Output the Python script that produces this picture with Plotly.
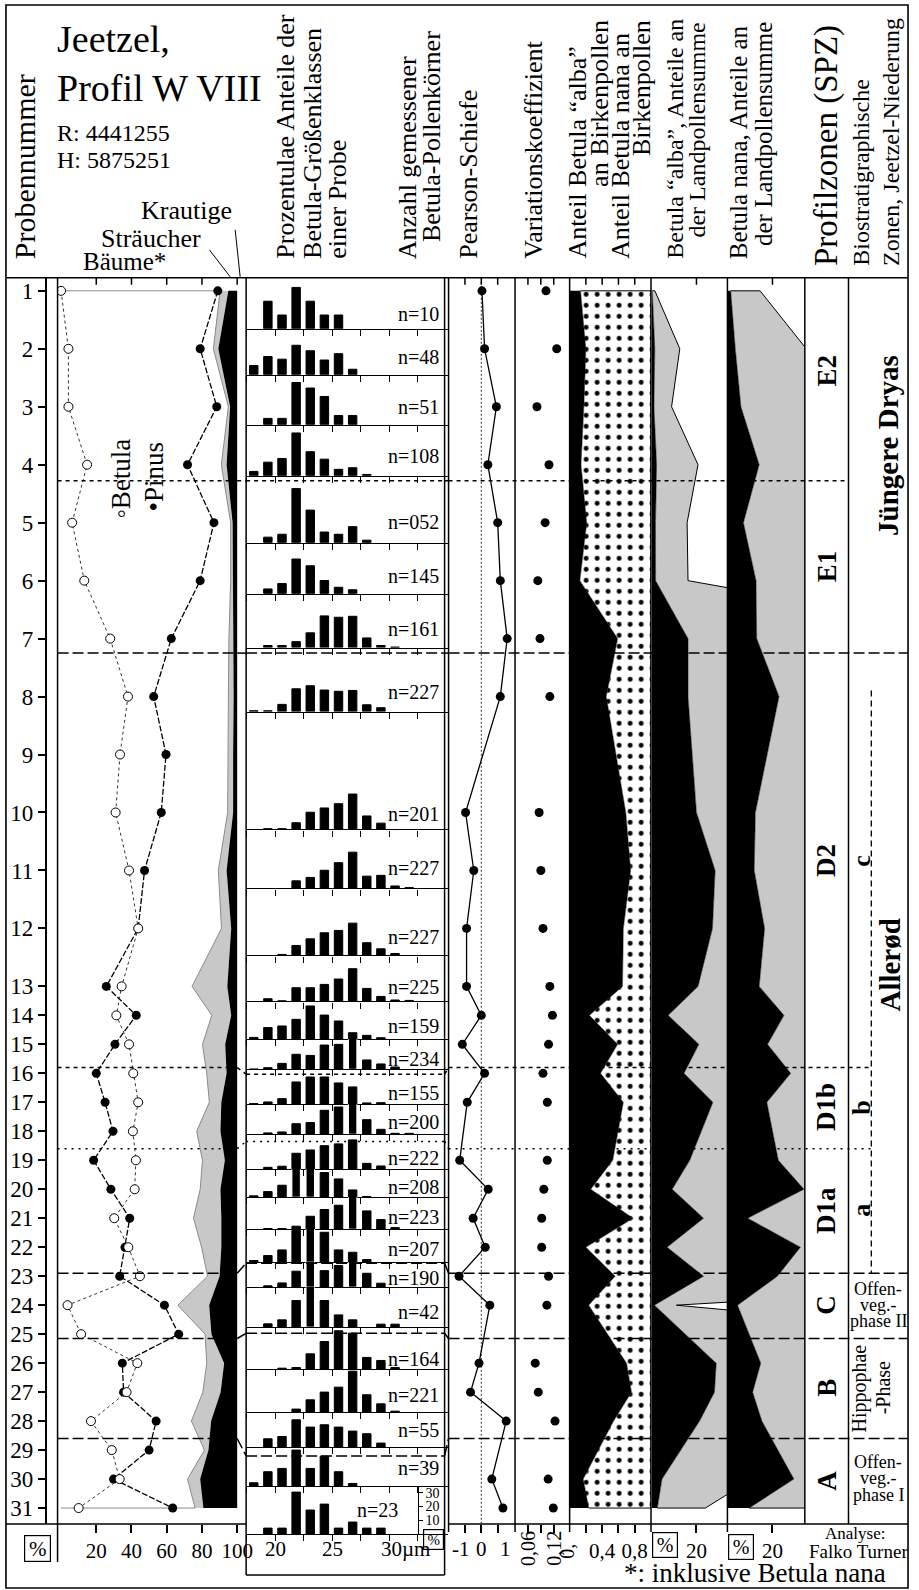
import plotly.graph_objects as go

W, H = 919, 1590
SERIF = "Liberation Serif"

# ------------------------------------------------------------------ data
sample_no = list(range(1, 32))
sample_depth = [0, 2, 4, 6, 8, 10, 12, 14, 16, 18, 20, 22, 24,
                25, 26, 27, 28, 29, 30, 31, 32, 33, 34, 35, 36, 37, 38, 39, 40, 41, 42]

betula = [0.0, 4.2, 4.2, 14.8, 6.3, 13.2, 27.9, 38.0, 33.5, 31.0, 38.6, 43.8, 34.4, 31.4, 38.6, 41.0,
          43.8, 40.8, 42.5, 41.8, 30.2, 38.2, 44.8, 3.7, 11.4, 43.3, 37.2, 17.0, 28.8, 33.3, 10.0]
pinus = [89.0, 79.0, 88.4, 71.8, 86.8, 79.0, 62.6, 52.6, 59.6, 56.9, 47.4, 43.8, 25.7, 42.7, 30.6, 20.0,
         25.0, 29.5, 18.5, 28.3, 39.0, 36.3, 33.3, 58.7, 66.8, 34.8, 35.5, 54.0, 50.0, 29.8, 63.4]
trees = [90.3, 86.5, 95.0, 91.0, 96.3, 96.3, 95.3, 95.0, 95.0, 94.6, 89.3, 91.1, 74.4, 85.6, 80.3, 82.7,
         84.2, 77.0, 80.3, 79.0, 75.2, 79.8, 83.2, 66.3, 81.8, 82.7, 80.5, 74.0, 81.4, 71.8, 76.1]
shrubs = [4.7, 2.8, 1.0, 3.0, 1.1, 1.4, 2.7, 3.0, 2.7, 3.1, 4.7, 5.5, 20.0, 11.0, 12.9, 11.3,
          6.8, 13.5, 12.7, 11.5, 15.8, 11.2, 6.8, 17.8, 3.6, 9.9, 10.1, 11.2, 2.3, 7.2, 4.7]

measured = [1, 2, 3, 4, 5, 6, 7, 8, 10, 11, 12, 13, 14, 15, 16, 17, 19, 20, 21, 22, 23, 24, 26, 27, 28, 30, 31]
n_label = ["10", "48", "51", "108", "052", "145", "161", "227", "201", "227", "227", "225", "159", "234",
           "155", "200", "222", "208", "223", "207", "190", "42", "164", "221", "55", "39", "23"]
pearson = [0.02, 0.10, 0.46, 0.20, 0.50, 0.58, 0.79, 0.58, -0.48, -0.23, -0.45, -0.45, 0.0, -0.58,
           0.10, -0.43, -0.66, 0.21, -0.25, 0.12, -0.68, 0.26, -0.07, -0.33, 0.76, 0.32, 0.66]
var_coef = [0.102, 0.127, 0.081, 0.109, 0.100, 0.083, 0.088, 0.111, 0.086, 0.090, 0.095, 0.111, 0.117,
            0.108, 0.095, 0.105, 0.105, 0.097, 0.092, 0.092, 0.108, 0.104, 0.077, 0.084, 0.123, 0.107, 0.119]
alba_frac = [0.134, 0.20, 0.175, 0.14, 0.21, 0.126, 0.59, 0.45, 0.69, 0.75, 0.66, 0.65, 0.244, 0.59,
             0.38, 0.66, 0.53, 0.26, 0.78, 0.20, 0.56, 0.235, 0.70, 0.76, 0.54, 0.167, 0.235]
alba_pct = [0.13, 1.25, 0.88, 2.07, 1.58, 1.62, 16.2, 16.2, 20.0, 28.4, 27.2, 20.7, 7.3, 21.1,
            14.4, 27.4, 17.0, 9.1, 23.2, 6.8, 23.2, 1.1, 28.9, 28.1, 21.4, 4.5, 2.4]
nana_pct = [1.45, 3.5, 6.0, 14.1, 7.1, 12.7, 13.0, 22.9, 12.4, 11.9, 16.5, 14.1, 25.1, 17.8,
            28.1, 17.5, 22.6, 34.0, 9.0, 32.4, 22.2, 4.5, 14.8, 11.2, 15.3, 29.5, 9.7]
exaggeration = 10

size_class_um = [18.1, 19.34, 20.58, 21.82, 23.06, 24.3, 25.54, 26.78, 28.02, 29.26, 30.5, 31.74]
h01 = [0, 20, 10, 30, 20, 10, 10, 0, 0, 0, 0, 0]
h02 = [6.7, 13.2, 11.3, 21.4, 17.4, 10.7, 15.3, 4.0, 0, 0, 0, 0]
h03 = [0, 4.6, 4.6, 30.6, 26.6, 20.5, 6.7, 6.7, 0, 0, 0, 0]
h04 = [3.1, 9.8, 12.5, 31.0, 17.4, 12.0, 4.6, 5.8, 0.9, 0, 0, 0]
h05 = [0, 4.0, 6.1, 39.2, 23.6, 7.7, 6.1, 11.6, 1.8, 0, 0, 0]
h06 = [0, 3.4, 7.3, 25.1, 20.2, 9.5, 4.6, 2.8, 0, 0, 0, 0]
h07 = [0, 1.5, 1.5, 4.3, 10.7, 23.0, 22.0, 22.7, 7.0, 1.5, 0.4, 0]
h08 = [0.6, 0.6, 5.2, 16.5, 18.7, 15.6, 14.7, 15.3, 4.9, 2.8, 0, 0]
h10 = [0, 0.6, 0.6, 4.9, 12.5, 15.6, 18.7, 25.7, 9.8, 4.6, 0, 0]
h11 = [0, 0, 0, 5.5, 8.0, 13.2, 18.7, 26.3, 8.9, 9.5, 1.8, 0.6]
h12 = [0, 0, 0.7, 7.2, 12.0, 16.4, 18.1, 23.4, 9.2, 4.8, 1.4, 0]
h13 = [0, 1.9, 0.4, 9.9, 9.9, 12.3, 16.2, 23.7, 9.4, 3.6, 1.0, 0.7]
h14 = [1.4, 8.5, 9.7, 14.5, 24.2, 17.6, 13.3, 4.8, 2.9, 1.2, 0, 0]
h15 = [0.2, 1.2, 4.3, 10.9, 10.1, 17.6, 18.1, 24.2, 6.8, 3.9, 1.7, 0]
h16 = [0.5, 1.7, 4.1, 16.2, 19.8, 19.8, 15.5, 12.6, 1.0, 1.2, 0, 0]
h17 = [0, 1.0, 1.7, 7.7, 8.5, 17.4, 19.8, 25.8, 10.6, 3.6, 0.7, 0.7]
h19 = [0, 1.4, 2.2, 11.6, 14.0, 17.1, 18.4, 21.3, 4.3, 2.4, 0, 0]
h20 = [1.0, 4.1, 8.7, 24.6, 29.5, 17.9, 13.3, 5.3, 0.5, 0, 0, 0]
h21 = [0, 0.5, 0.5, 2.2, 9.4, 14.3, 17.4, 28.3, 13.3, 7.0, 1.2, 0]
h22 = [1.2, 4.8, 8.9, 23.0, 30.2, 21.7, 8.9, 7.2, 1.9, 0, 0, 0]
h23 = [0, 1.0, 3.1, 11.6, 20.5, 12.0, 15.7, 20.5, 10.1, 2.9, 0, 0]
h24 = [0, 2.4, 5.3, 19.3, 31.9, 19.3, 8.9, 5.3, 0, 2.2, 2.2, 0]
h26 = [0, 0, 0.7, 1.2, 11.1, 20.0, 27.8, 26.1, 8.5, 6.3, 1.2, 0]
h27 = [0, 0, 0, 2.2, 8.9, 14.5, 18.1, 29.7, 12.6, 6.0, 0.7, 0]
h28 = [0, 6.0, 7.7, 19.8, 14.5, 16.2, 14.5, 11.6, 9.7, 2.9, 0, 0]
h30 = [2.4, 10.4, 12.8, 26.1, 12.8, 21.7, 10.4, 1.9, 0, 0, 0, 0]
h31 = [0, 4.3, 4.3, 30.4, 17.4, 21.7, 4.3, 8.7, 4.3, 4.3, 0, 0]
histograms = [h01, h02, h03, h04, h05, h06, h07, h08, h10, h11, h12, h13, h14, h15, h16, h17,
              h19, h20, h21, h22, h23, h24, h26, h27, h28, h30, h31]

zone_bounds = [6.55, 12.5, 26.8, 29.6, 33.9, 36.15, 39.6]
zone_bounds_hist = [6.55, 12.5, 27.03, 29.35, 33.55, 35.97, 40.2]

# ------------------------------------------------------------------ layout helpers
def px(x):
    return x / W


def py(y):
    return 1 - y / H


PX_PER_UNIT = 29.0
Y_TOP, Y_BOT = 277, 1524


def depth_of(ypx):
    return (ypx - 290) / PX_PER_UNIT


hist_base_px = [328, 374, 424, 475, 542, 593, 647, 711, 829, 888, 955, 1001, 1039, 1069, 1104, 1134,
                1169, 1197, 1229, 1262, 1287, 1327, 1369, 1412, 1447, 1486, 1534]
n_label_dy = [15, 18, 18, 20, 21, 18, 19, 20, 15, 20, 18, 14, 13, 10, 11, 12, 11, 10, 12, 13, 9, 15,
              10, 17, 17, 18, 24]
PX_PER_PCT = 1.38

fig = go.Figure()
meas_depth = [sample_depth[s - 1] for s in measured]
d_first, d_last = meas_depth[0], meas_depth[-1]

# ------------------------------------------------------------------ pollen panel
cum = [t + s for t, s in zip(trees, shrubs)]
fig.add_trace(go.Scatter(x=trees, y=sample_depth, mode="lines", line=dict(width=0),
                         xaxis="x", yaxis="y", hoverinfo="skip"))
fig.add_trace(go.Scatter(x=cum, y=sample_depth, mode="lines", line=dict(width=0), fill="tonextx",
                         fillcolor="#c8c8c8", xaxis="x", yaxis="y", hoverinfo="skip"))
fig.add_trace(go.Scatter(x=[100] * len(sample_depth), y=sample_depth, mode="lines", line=dict(width=0),
                         fill="tonextx", fillcolor="black", xaxis="x", yaxis="y", hoverinfo="skip"))
fig.add_trace(go.Scatter(x=[0] + trees + [0], y=[sample_depth[0]] + sample_depth + [sample_depth[-1]],
                         mode="lines", line=dict(color="#8a8a8a", width=1), xaxis="x", yaxis="y"))
fig.add_trace(go.Scatter(x=pinus, y=sample_depth, mode="lines+markers",
                         line=dict(color="black", width=1.3, dash="6px,2px"),
                         marker=dict(color="black", size=9), xaxis="x", yaxis="y"))
fig.add_trace(go.Scatter(x=betula, y=sample_depth, mode="lines+markers",
                         line=dict(color="#333", width=1, dash="dot"),
                         marker=dict(color="white", size=9, line=dict(color="black", width=1)),
                         xaxis="x", yaxis="y"))

# ------------------------------------------------------------------ histogram panels
n_hist = len(histograms)
for i, vals in enumerate(histograms):
    base = hist_base_px[i]
    top = 277 if i == 0 else hist_base_px[i - 1]
    panel_h = base - top
    xs = [c for c, v in zip(size_class_um, vals) if v > 0]
    ys = [v for v in vals if v > 0]
    edge = ["white" if v * PX_PER_PCT > panel_h - 1 else "black" for v in ys]
    ax_x = "x%d" % (7 + i)
    ax_y = "y%d" % (2 + i)
    fig.add_trace(go.Bar(x=xs, y=ys, width=0.74, marker=dict(color="black", line=dict(color=edge, width=1)),
                         cliponaxis=False, xaxis=ax_x, yaxis=ax_y, hoverinfo="skip"))

# ------------------------------------------------------------------ right panels
fig.add_trace(go.Scatter(x=pearson, y=meas_depth, mode="lines+markers", line=dict(color="black", width=1.3),
                         marker=dict(color="black", size=9), xaxis="x2", yaxis="y"))
fig.add_trace(go.Scatter(x=var_coef, y=meas_depth, mode="markers",
                         marker=dict(color="black", size=9), xaxis="x3", yaxis="y"))

fig.add_trace(go.Scatter(x=alba_frac, y=meas_depth, mode="lines", line=dict(color="black", width=0.5),
                         fill="tozerox", fillcolor="black", xaxis="x4", yaxis="y"))
fig.add_trace(go.Scatter(x=[alba_frac[0]] + [1] * len(meas_depth) + [alba_frac[-1]],
                         y=[d_first] + meas_depth + [d_last], mode="lines",
                         line=dict(color="black", width=1), fill="tonextx", fillcolor="white",
                         fillpattern=dict(shape=".", fgcolor="black", bgcolor="white", size=11,
                                          solidity=0.16, fillmode="replace"),
                         xaxis="x4", yaxis="y"))

alba_ex = [exaggeration * v for v in alba_pct]
fig.add_trace(go.Scatter(x=alba_pct, y=meas_depth, mode="lines", line=dict(color="black", width=0.5),
                         fill="tozerox", fillcolor="black", xaxis="x5", yaxis="y"))
fig.add_trace(go.Scatter(x=[alba_pct[0]] + alba_ex + [alba_pct[-1]], y=[d_first] + meas_depth + [d_last],
                         mode="lines", line=dict(color="black", width=1), fill="tonextx",
                         fillcolor="#c8c8c8", xaxis="x5", yaxis="y"))

nana_ex = [exaggeration * v for v in nana_pct]
fig.add_trace(go.Scatter(x=nana_pct, y=meas_depth, mode="lines", line=dict(color="black", width=0.5),
                         fill="tozerox", fillcolor="black", xaxis="x6", yaxis="y"))
fig.add_trace(go.Scatter(x=[nana_pct[0]] + nana_ex + [nana_pct[-1]], y=[d_first] + meas_depth + [d_last],
                         mode="lines", line=dict(color="black", width=1), fill="tonextx",
                         fillcolor="#c8c8c8", xaxis="x6", yaxis="y"))

# ------------------------------------------------------------------ axes
tickfont = dict(family=SERIF, size=21, color="black")
common_x = dict(showgrid=False, zeroline=False, showline=False, ticks="outside", ticklen=8,
                tickwidth=1.5, tickcolor="black", tickfont=tickfont, anchor="y", fixedrange=True)
layout = dict(
    width=W, height=H, margin=dict(l=0, r=0, t=0, b=0), paper_bgcolor="white",
    plot_bgcolor="rgba(0,0,0,0)", showlegend=False, hovermode=False,
    font=dict(family=SERIF, color="black"),
    yaxis=dict(domain=[py(Y_BOT), py(Y_TOP)], range=[depth_of(Y_BOT), depth_of(Y_TOP)],
               anchor="free", position=px(46), side="left", showline=True, linecolor="black",
               linewidth=1.5, ticks="outside", ticklen=7, tickwidth=1.5, tickcolor="black",
               tickvals=sample_depth, ticktext=[str(s) for s in sample_no],
               tickfont=dict(family=SERIF, size=23, color="black"),
               showgrid=False, zeroline=False, fixedrange=True),
    xaxis=dict(domain=[px(58), px(248)], range=[-3.5 / 1.775, (248 - 61.5) / 1.775],
               tickvals=[20, 40, 60, 80, 100], **common_x),
    xaxis2=dict(domain=[px(452), px(519)], range=[-1.0, 1.03], tickvals=[-0.5, 0, 0.5],
                showticklabels=False, **common_x),
    xaxis3=dict(domain=[px(519), px(574)], range=[0.03, 0.157], tickvals=[0.06, 0.09, 0.12],
                showticklabels=False, **common_x),
    xaxis4=dict(domain=[px(574), px(656)], range=[0, 1], tickvals=[0.2, 0.4, 0.6, 0.8],
                ticktext=["", "0,4", "", "0,8"], **common_x),
    xaxis5=dict(domain=[px(656), px(733)], range=[-0.45, 33.93], tickvals=[20], ticktext=["20"],
                **common_x),
    xaxis6=dict(domain=[px(733), px(811)], range=[0, 34.36], tickvals=[20], ticktext=["20"],
                **common_x),
)
hist_ticks = [17.5, 20, 22.5, 25, 27.5, 30, 32.5]
for i in range(n_hist):
    base = hist_base_px[i]
    top = 277 if i == 0 else hist_base_px[i - 1]
    xa = "xaxis%d" % (7 + i)
    ya = "yaxis%d" % (2 + i)
    layout[xa] = dict(domain=[px(248), px(451)], range=[17.43, 35.11], anchor="y%d" % (2 + i),
                      showline=True, linecolor="black", linewidth=1.3, ticks="outside", ticklen=6,
                      tickwidth=1.3, tickcolor="black", tickvals=hist_ticks, showticklabels=False,
                      showgrid=False, zeroline=False, fixedrange=True)
    yd = dict(domain=[py(base), py(top)], range=[0, (base - top) / PX_PER_PCT], anchor="x%d" % (7 + i),
              showgrid=False, zeroline=False, fixedrange=True)
    if i == n_hist - 1:
        yd.update(anchor="free", position=px(421), side="right", showline=True, linecolor="black",
                  linewidth=1, ticks="outside", ticklen=4, tickcolor="black", tickvals=[10, 20, 30],
                  tickfont=dict(family=SERIF, size=14, color="black"))
    else:
        yd.update(visible=False)
    layout[ya] = yd

# ------------------------------------------------------------------ shapes
shapes = []


def pline(x0, y0, x1, y1, w=1.5, dash=None):
    d = dict(type="line", xref="paper", yref="paper", x0=px(x0), y0=py(y0), x1=px(x1), y1=py(y1),
             line=dict(color="black", width=w))
    if dash:
        d["line"]["dash"] = dash
    shapes.append(d)


shapes.append(dict(type="rect", xref="paper", yref="paper", x0=px(6), y0=py(4), x1=px(915), y1=py(1588),
                   line=dict(color="black", width=1.6)))
pline(6, Y_TOP, 915, Y_TOP)
pline(6, Y_BOT, 248, Y_BOT)
pline(452, Y_BOT, 915, Y_BOT)
pline(248, 1575, 448, 1575)
pline(58, Y_TOP, 58, 1562)
pline(248, Y_TOP, 248, 1575)
pline(448, Y_TOP, 448, 1575)
pline(452, Y_TOP, 452, 1532)
for xv in [519, 574, 656, 733]:
    pline(xv, Y_TOP, xv, 1532)
for xv in [811, 855]:
    pline(xv, Y_TOP, xv, Y_BOT)

# top ticks (inside, pointing down)
for axref, vals in [("x", [20, 40, 60, 80, 100]), ("x2", [-0.5, 0, 0.5]), ("x3", [0.06, 0.09, 0.12]),
                    ("x4", [0.2, 0.4, 0.6, 0.8]), ("x5", [20]), ("x6", [20])]:
    for v in vals:
        shapes.append(dict(type="line", xref=axref, yref="paper", x0=v, x1=v, y0=py(Y_TOP), y1=py(Y_TOP + 7),
                           line=dict(color="black", width=1.5)))

# Pearson zero line
shapes.append(dict(type="line", xref="x2", yref="paper", x0=0, x1=0, y0=py(Y_TOP), y1=py(Y_BOT),
                   line=dict(color="black", width=0.8, dash="2px,2px")))

# zone boundaries
zone_dash = ["4px,4px", "11px,4px", "4px,4px", "2px,5px", "11px,4px", "11px,4px", "11px,4px"]
zone_right = [855, 915, 878, 878, 915, 915, 915]
for zb, hz, ds, xr in zip(zone_bounds, zone_bounds_hist, zone_dash, zone_right):
    segs = [((58, zb), (239, zb)), ((239, zb), (248, hz)), ((248, hz), (448, hz)),
            ((448, hz), (452, zb)), ((452, zb), (xr, zb))]
    for (xa_, ya_), (xb_, yb_) in segs:
        shapes.append(dict(type="line", xref="paper", yref="y", x0=px(xa_), x1=px(xb_), y0=ya_, y1=yb_,
                           line=dict(color="black", width=1.5, dash=ds)))
shapes.append(dict(type="line", xref="paper", yref="y", x0=px(878), x1=px(878), y0=depth_of(690),
                   y1=zone_bounds[4], line=dict(color="black", width=1.3, dash="6px,4px")))

# leader lines of header labels
pline(211, 249, 232, 276, w=1)
pline(237, 229, 242, 276, w=1)

# ------------------------------------------------------------------ annotations
anns = []


def ann(text, x, y, size, angle=0, xa="center", ya="middle", bold=False, box=False):
    d = dict(text="<b>%s</b>" % text if bold else text, x=px(x), y=py(y), xref="paper", yref="paper",
             showarrow=False, textangle=angle, xanchor=xa, yanchor=ya,
             font=dict(family=SERIF, size=size, color="black"))
    if box:
        d.update(bordercolor="black", borderwidth=1.2, borderpad=1, width=size + 2, height=size + 2)
    anns.append(d)


# header
ann("Probennummer", 25, 260, 30, -90, ya="bottom")
ann("Jeetzel,", 55, 38, 38, xa="left")
ann("Profil W VIII", 55, 87, 38, xa="left")
ann("R: 4441255", 55, 132, 24, xa="left")
ann("H: 5875251", 55, 159, 24, xa="left")
ann("Krautige", 140, 210, 26, xa="left")
ann("Sträucher", 100, 238, 26, xa="left")
ann("Bäume*", 82, 261, 25, xa="left")
ann("Prozentulae Anteile der", 288, 260, 26, -90, ya="bottom")
ann("Betula-Größenklassen", 315, 260, 26, -90, ya="bottom")
ann("einer Probe", 340, 260, 26, -90, ya="bottom")
ann("Anzahl gemessener", 410, 260, 26, -90, ya="bottom")
ann("Betula-Pollenkörner", 435, 243, 26, -90, ya="bottom")
ann("Pearson-Schiefe", 472, 260, 26, -90, ya="bottom")
ann("Variationskoeffizient", 538, 260, 26, -90, ya="bottom")
ann("Anteil Betula “alba”", 582, 260, 26, -90, ya="bottom")
ann("an Birkenpollen", 604, 17, 26, -90, ya="top")
ann("Anteil Betula nana an", 626, 260, 26, -90, ya="bottom")
ann("Birkenpollen", 647, 17, 26, -90, ya="top")
ann("Betula “alba”, Anteile an", 680, 260, 24, -90, ya="bottom")
ann("der Landpollensumme", 702, 129, 24, -90)
ann("Betula nana, Anteile an", 745, 260, 25, -90, ya="bottom")
ann("der Landpollensumme", 770, 247, 25, -90, ya="bottom")
ann("Profilzonen (SPZ)", 833, 267, 33, -90, ya="bottom")
ann("Biostratigraphische", 868, 267, 24, -90, ya="bottom")
ann("Zonen, Jeetzel-Niederung", 898, 267, 24, -90, ya="bottom")

# legend labels in pollen panel
ann("◦Betula", 122, 478, 27, -90)
ann("•Pinus", 155, 476, 27, -90)

# n labels
for i, lab in enumerate(n_label):
    base = hist_base_px[i]
    if i == n_hist - 1:
        ann("n=" + lab, 380, base - n_label_dy[i], 20)
    else:
        ann("n=" + lab, 444, base - n_label_dy[i], 20, xa="right")

# bottom axis labels
ann("%", 38, 1548, 21, box=True)
ann("20", 277.5, 1549, 21)
ann("25", 334.9, 1549, 21)
ann("30µm", 382, 1549, 21, xa="left")
ann("%", 437, 1539, 15, box=True)
ann("-1", 453, 1549, 21, xa="left")
ann("0", 485, 1549, 21)
ann("1", 517, 1549, 21, xa="right")
ann("0,06", 532, 1548, 20, -90)
ann("0,12", 558, 1548, 20, -90)
ann("0,", 571, 1551, 20, -90)
ann("%", 670, 1545, 20, box=True)
ann("%", 747, 1547, 20, box=True)
ann("Analyse:", 862, 1533, 17)
ann("Falko Turner", 865, 1551, 19)
ann("*: inklusive Betula nana", 761, 1573, 27)

# zones
for lab, yv in [("E2", 370), ("E1", 566), ("D2", 860), ("D1b", 1107), ("D1a", 1210), ("C", 1305),
                ("B", 1388), ("A", 1481)]:
    ann(lab, 833, yv, 27, -90, bold=True)
ann("Jüngere Dryas", 895, 445, 29, -90, bold=True)
ann("Allerød", 897, 965, 29, -90, bold=True)
for lab, yv in [("c", 860), ("b", 1107), ("a", 1210)]:
    ann(lab, 868, yv, 26, -90, bold=True)
for lab, yv in [("Offen-", 1289), ("veg.-", 1305), ("phase II", 1321)]:
    ann(lab, 885, yv, 18)
ann("Hippophae", 866, 1388, 20, -90)
ann("-Phase", 890, 1388, 20, -90)
for lab, yv in [("Offen-", 1462), ("veg.-", 1478), ("phase I", 1495)]:
    ann(lab, 885, yv, 18)

layout["shapes"] = shapes
layout["annotations"] = anns
fig.update_layout(**layout)
fig.write_html("out.html")
